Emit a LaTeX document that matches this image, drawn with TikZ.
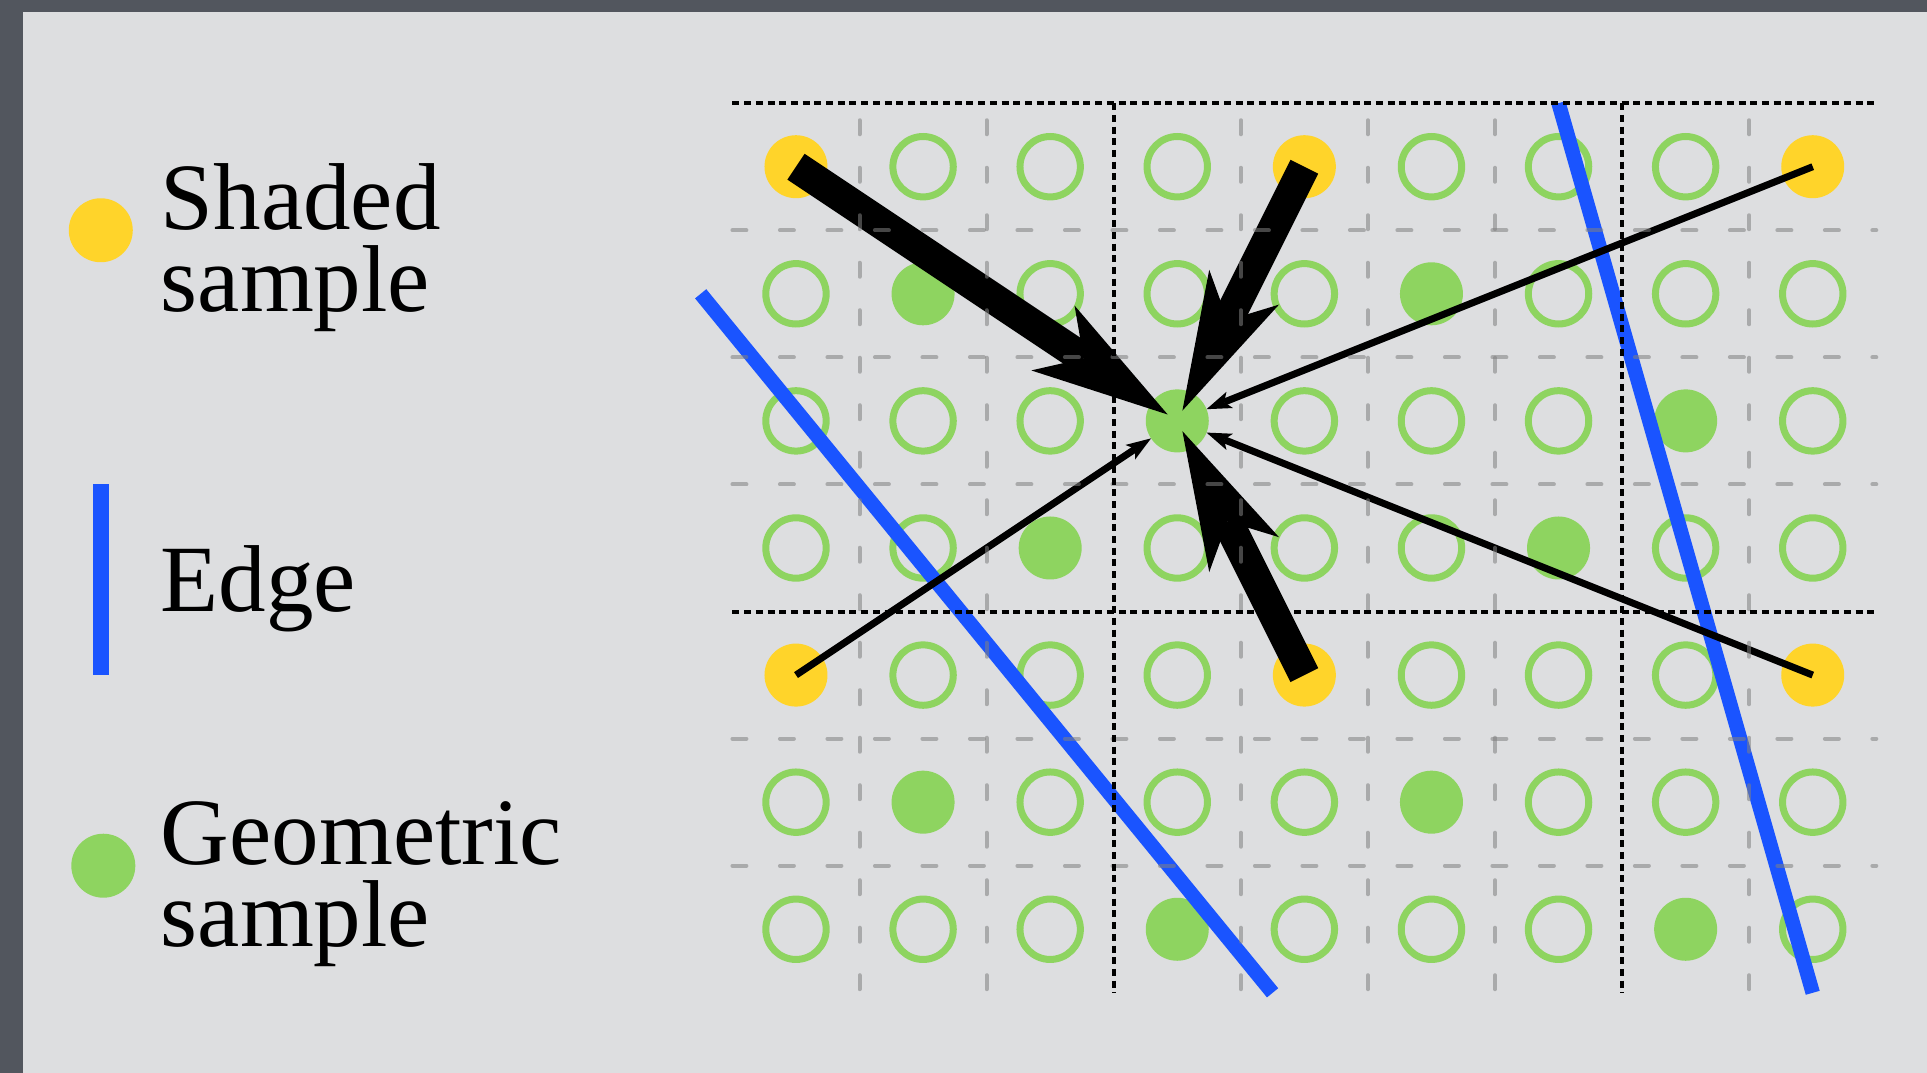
\documentclass[tikz,border=0pt]{standalone}
\usepackage{fontspec}
\setmainfont{Liberation Serif}
\usetikzlibrary{arrows.meta}

\definecolor{papergray}{RGB}{221,222,224}
\definecolor{framegray}{RGB}{82,86,94}
\definecolor{shadeyellow}{RGB}{255,212,42}
\definecolor{geogreen}{RGB}{142,212,96}
\definecolor{edgeblue}{RGB}{26,84,255}

\begin{document}
\begin{tikzpicture}[x=63.55pt,y=-63.55pt,
    ring/.style={circle,draw=geogreen,line width=3.5pt,minimum size=30.2pt,
      inner sep=0pt,outer sep=0pt},
    geo/.style={circle,fill=geogreen,minimum size=31.5pt,inner sep=0pt,outer sep=0pt},
    yellowdot/.style={circle,fill=shadeyellow,minimum size=31.5pt,inner sep=0pt,
      outer sep=0pt},
    edgeline/.style={edgeblue,line width=7.25pt},
    heavyarrow/.style={line width=15.5pt,shorten >=-10pt,
      -{Stealth[length=69pt,width=39pt,inset=18.5pt,line width=0pt 0 1]}},
    lightarrow/.style={line width=3.5pt,
      -{Stealth[length=12.5pt,width=8.75pt,inset=3pt,line width=0pt 0 1]}},
    finegrid/.style={gray,opacity=.55,line width=2pt,line cap=round,
      dash pattern=on 7pt off 16.75pt},
    coarsegrid/.style={black,line width=2pt,dash pattern=on 3.5pt off 2.35pt},
    keytext/.style={anchor=base west,inner sep=0pt,align=left,
      font=\fontsize{47.5pt}{41pt}\selectfont}]
  \useasboundingbox (-6.263,-1.3116) rectangle (8.899,7.1306);
  \fill[framegray] (-6.263,-1.3116) rectangle (8.899,7.1306);
  \fill[papergray] (-6.082,-1.2172) rectangle (8.899,7.1306);

  % samples, one per cell
  \foreach \r in {0,...,6}
    \foreach \c in {0,...,8} {
      \pgfmathtruncatemacro\k{mod(\c,4)+4*mod(\r,4)}
      \def\kind{ring}
      \ifnum\k=0 \def\kind{yellowdot}\fi
      \ifnum\k=5 \def\kind{geo}\fi
      \ifnum\k=11 \def\kind{geo}\fi
      \ifnum\k=14 \def\kind{geo}\fi
      \node[\kind] (s-\c-\r) at (\c,\r) {};
    }

  % edges
  \draw[edgeline] (-0.75,1) -- (3.75,6.5);
  \draw[edgeline] (6,-0.5) -- (8,6.5);

  % weights
  \draw[heavyarrow] (s-0-0.center) -- (s-3-2);
  \draw[heavyarrow] (s-4-0.center) -- (s-3-2);
  \draw[heavyarrow] (s-4-4.center) -- (s-3-2);
  \draw[lightarrow] (s-8-0.center) -- (s-3-2);
  \draw[lightarrow] (s-0-4.center) -- (s-3-2);
  \draw[lightarrow] (s-8-4.center) -- (s-3-2);

  % grids
  \foreach \y in {0.5,1.5,2.5,4.5,5.5}
    \draw[finegrid] (-0.5,\y) -- (8.5,\y);
  \foreach \x in {0.5,1.5,3.5,4.5,5.5,7.5}
    \draw[finegrid,dash phase=15.2pt] (\x,-0.5) -- (\x,6.5);
  \draw[coarsegrid] (-0.5,-0.5) -- (8.5,-0.5) (-0.5,3.5) -- (8.5,3.5)
    (2.5,-0.5) -- (2.5,6.5) (6.5,-0.5) -- (6.5,6.5);

  % legend
  \node[yellowdot,minimum size=32pt] (keyshaded) at (-5.47,0.5) {};
  \node[keytext] (shadedtext) at (-5.0,1.143) {Shaded\\sample};
  \draw[edgeline,line width=8pt] (-5.47,2.5) -- (-5.47,4.0);
  \node[keytext] (edgetext) at (-5.0,3.503) {Edge};
  \node[geo,minimum size=32pt] (keygeo) at (-5.45,5.5) {};
  \node[keytext] (geotext) at (-5.0,6.139) {Geometric\\sample};
\end{tikzpicture}
\end{document}
